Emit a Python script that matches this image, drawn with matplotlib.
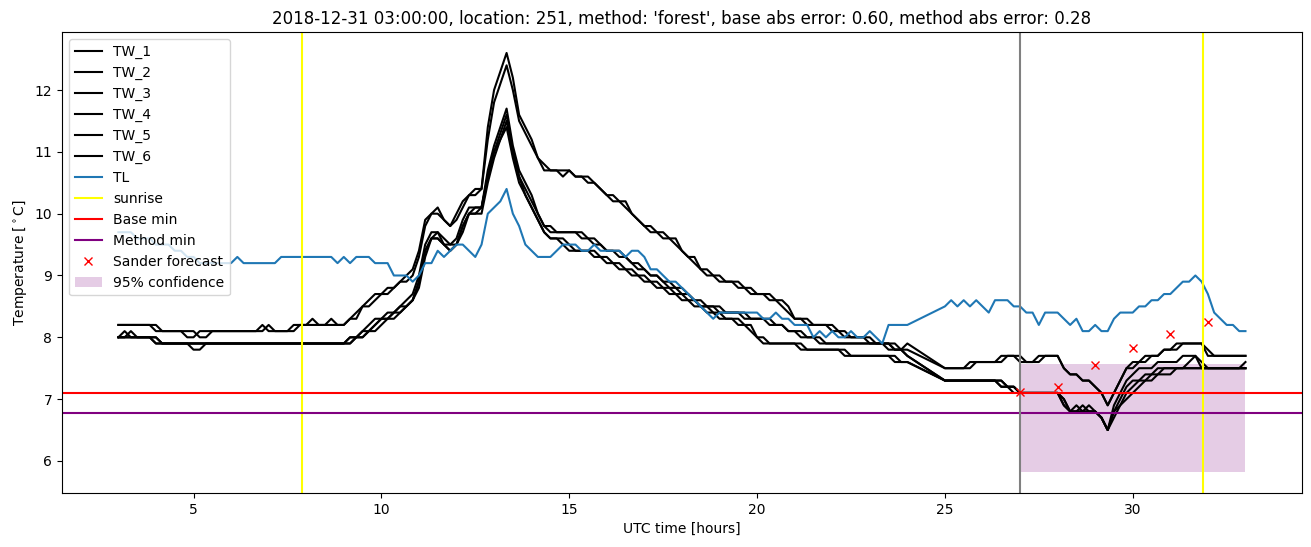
import numpy as np
import matplotlib
matplotlib.use("Agg")
import matplotlib.pyplot as plt

# sample times: 10-minute steps, 3:00-24:00 and 25:00-33:00 (gap in data)
hours = np.concatenate([np.arange(127) / 6 + 3, np.arange(49) / 6 + 25])

tw_1 = [
    8.2, 8.2, 8.2, 8.2, 8.2, 8.2,   # 3
    8.1, 8.1, 8.1, 8.1, 8.1, 8.0,   # 4
    8.0, 8.1, 8.1, 8.1, 8.1, 8.1,   # 5
    8.1, 8.1, 8.1, 8.1, 8.1, 8.2,   # 6
    8.1, 8.1, 8.1, 8.1, 8.2, 8.2,   # 7
    8.2, 8.3, 8.2, 8.2, 8.2, 8.2,   # 8
    8.2, 8.3, 8.4, 8.5, 8.6, 8.7,   # 9
    8.7, 8.8, 8.8, 8.9, 9.0, 9.1,   # 10
    9.4, 9.9, 10.0, 10.1, 9.9, 9.8,  # 11
    10.0, 10.2, 10.3, 10.4, 10.4, 11.4,  # 12
    12.0, 12.3, 12.6, 12.2, 11.6, 11.4,  # 13
    11.2, 10.9, 10.8, 10.7, 10.7, 10.7,  # 14
    10.7, 10.6, 10.6, 10.6, 10.5, 10.4,  # 15
    10.3, 10.3, 10.2, 10.2, 10.0, 9.9,   # 16
    9.8, 9.8, 9.7, 9.7, 9.6, 9.6,   # 17
    9.4, 9.3, 9.3, 9.1, 9.1, 9.0,   # 18
    9.0, 8.9, 8.9, 8.9, 8.8, 8.8,   # 19
    8.7, 8.7, 8.7, 8.6, 8.6, 8.5,   # 20
    8.3, 8.3, 8.3, 8.2, 8.2, 8.2,   # 21
    8.2, 8.1, 8.1, 8.0, 8.0, 8.0,   # 22
    8.0, 7.9, 7.9, 7.9, 7.9, 7.8,   # 23
    7.8,                            # 24
    7.5, 7.5, 7.5, 7.5, 7.6, 7.6,   # 25
    7.6, 7.6, 7.6, 7.7, 7.7, 7.7,   # 26
    7.6, 7.6, 7.6, 7.7, 7.7, 7.7,   # 27
    7.7, 7.5, 7.4, 7.4, 7.3, 7.3,   # 28
    7.2, 7.1, 6.9, 7.1, 7.3, 7.5,   # 29
    7.5, 7.6, 7.6, 7.7, 7.7, 7.8,   # 30
    7.8, 7.8, 7.9, 7.9, 7.9, 7.9,   # 31
    7.8, 7.7, 7.7, 7.7, 7.7, 7.7,   # 32
    7.7,                            # 33
]

tw_2 = [
    8.2, 8.2, 8.2, 8.2, 8.2, 8.2,
    8.2, 8.1, 8.1, 8.1, 8.1, 8.1,
    8.1, 8.0, 8.0, 8.1, 8.1, 8.1,
    8.1, 8.1, 8.1, 8.1, 8.1, 8.1,
    8.2, 8.1, 8.1, 8.1, 8.1, 8.2,
    8.2, 8.2, 8.2, 8.2, 8.3, 8.2,
    8.2, 8.3, 8.3, 8.5, 8.5, 8.6,
    8.7, 8.7, 8.8, 8.9, 8.9, 9.0,
    9.3, 9.8, 10.0, 10.0, 9.9, 9.8,
    9.9, 10.1, 10.3, 10.3, 10.4, 11.2,
    11.8, 12.1, 12.4, 12.0, 11.5, 11.3,
    11.1, 10.9, 10.7, 10.7, 10.7, 10.6,
    10.7, 10.6, 10.6, 10.5, 10.5, 10.4,
    10.3, 10.2, 10.2, 10.1, 10.0, 9.9,
    9.8, 9.7, 9.7, 9.6, 9.6, 9.5,
    9.4, 9.3, 9.2, 9.1, 9.0, 9.0,
    8.9, 8.9, 8.9, 8.8, 8.8, 8.7,
    8.7, 8.7, 8.6, 8.6, 8.5, 8.4,
    8.3, 8.3, 8.2, 8.2, 8.2, 8.2,
    8.1, 8.1, 8.0, 8.0, 8.0, 8.0,
    7.9, 7.9, 7.9, 7.9, 7.8, 7.8,
    7.9,
    7.5, 7.5, 7.5, 7.5, 7.5, 7.6,
    7.6, 7.6, 7.6, 7.6, 7.7, 7.7,
    7.7, 7.6, 7.6, 7.6, 7.7, 7.7,
    7.7, 7.5, 7.4, 7.4, 7.3, 7.3,
    7.2, 7.1, 6.9, 7.1, 7.3, 7.5,
    7.6, 7.6, 7.7, 7.7, 7.7, 7.8,
    7.8, 7.9, 7.9, 7.9, 7.9, 7.9,
    7.7, 7.7, 7.7, 7.7, 7.7, 7.7,
    7.7,
]

tw_3 = [
    8.0, 8.1, 8.0, 8.0, 8.0, 8.0,
    7.9, 7.9, 7.9, 7.9, 7.9, 7.9,
    7.8, 7.8, 7.9, 7.9, 7.9, 7.9,
    7.9, 7.9, 7.9, 7.9, 7.9, 7.9,
    7.9, 7.9, 7.9, 7.9, 7.9, 7.9,
    7.9, 7.9, 7.9, 7.9, 7.9, 7.9,
    7.9, 8.0, 8.0, 8.1, 8.2, 8.3,
    8.3, 8.4, 8.4, 8.5, 8.6, 8.7,
    9.0, 9.5, 9.7, 9.7, 9.5, 9.5,
    9.6, 9.9, 10.1, 10.1, 10.1, 10.7,
    11.1, 11.4, 11.7, 11.1, 10.7, 10.5,
    10.3, 10.0, 9.8, 9.8, 9.7, 9.7,
    9.7, 9.7, 9.6, 9.6, 9.5, 9.5,
    9.4, 9.4, 9.3, 9.3, 9.2, 9.1,
    9.1, 9.0, 9.0, 8.9, 8.8, 8.8,
    8.7, 8.7, 8.6, 8.5, 8.5, 8.5,
    8.4, 8.4, 8.4, 8.4, 8.3, 8.3,
    8.3, 8.3, 8.3, 8.2, 8.2, 8.1,
    8.1, 8.0, 8.0, 8.0, 7.9, 7.9,
    7.9, 7.9, 7.9, 7.9, 7.9, 7.9,
    7.9, 7.9, 7.9, 7.9, 7.8, 7.8,
    7.7,
    7.3, 7.3, 7.3, 7.3, 7.3, 7.3,
    7.3, 7.3, 7.3, 7.2, 7.2, 7.2,
    7.1, 7.1, 7.1, 7.1, 7.1, 7.1,
    7.1, 7.0, 6.8, 6.8, 6.9, 6.8,
    6.8, 6.7, 6.5, 6.9, 7.1, 7.3,
    7.4, 7.5, 7.5, 7.5, 7.6, 7.6,
    7.6, 7.6, 7.7, 7.7, 7.7, 7.6,
    7.5, 7.5, 7.5, 7.5, 7.5, 7.5,
    7.5,
]

tw_4 = [
    8.0, 8.0, 8.1, 8.0, 8.0, 8.0,
    8.0, 7.9, 7.9, 7.9, 7.9, 7.9,
    7.9, 7.9, 7.9, 7.9, 7.9, 7.9,
    7.9, 7.9, 7.9, 7.9, 7.9, 7.9,
    7.9, 7.9, 7.9, 7.9, 7.9, 7.9,
    7.9, 7.9, 7.9, 7.9, 7.9, 7.9,
    7.9, 7.9, 8.0, 8.1, 8.1, 8.2,
    8.3, 8.3, 8.4, 8.5, 8.5, 8.6,
    8.9, 9.4, 9.6, 9.7, 9.6, 9.5,
    9.5, 9.8, 10.0, 10.1, 10.1, 10.6,
    11.0, 11.3, 11.6, 11.0, 10.6, 10.4,
    10.2, 10.0, 9.8, 9.7, 9.7, 9.7,
    9.7, 9.7, 9.7, 9.6, 9.6, 9.5,
    9.4, 9.4, 9.4, 9.3, 9.2, 9.2,
    9.1, 9.0, 9.0, 8.9, 8.9, 8.8,
    8.8, 8.7, 8.6, 8.6, 8.5, 8.5,
    8.5, 8.4, 8.4, 8.4, 8.4, 8.3,
    8.3, 8.3, 8.2, 8.2, 8.2, 8.1,
    8.1, 8.1, 8.0, 8.0, 8.0, 7.9,
    7.9, 7.9, 7.9, 7.9, 7.9, 7.9,
    7.9, 7.9, 7.9, 7.8, 7.8, 7.8,
    7.7,
    7.3, 7.3, 7.3, 7.3, 7.3, 7.3,
    7.3, 7.3, 7.3, 7.3, 7.2, 7.2,
    7.1, 7.1, 7.1, 7.1, 7.1, 7.1,
    7.1, 6.9, 6.8, 6.9, 6.8, 6.8,
    6.8, 6.7, 6.5, 6.8, 7.0, 7.2,
    7.3, 7.3, 7.4, 7.4, 7.5, 7.5,
    7.5, 7.5, 7.5, 7.6, 7.7, 7.5,
    7.5, 7.5, 7.5, 7.5, 7.5, 7.5,
    7.5,
]

tw_5 = [
    8.0, 8.0, 8.0, 8.0, 8.0, 8.0,
    7.9, 7.9, 7.9, 7.9, 7.9, 7.9,
    7.9, 7.9, 7.9, 7.9, 7.9, 7.9,
    7.9, 7.9, 7.9, 7.9, 7.9, 7.9,
    7.9, 7.9, 7.9, 7.9, 7.9, 7.9,
    7.9, 7.9, 7.9, 7.9, 7.9, 7.9,
    7.9, 8.0, 8.0, 8.0, 8.1, 8.2,
    8.3, 8.3, 8.4, 8.4, 8.5, 8.6,
    8.9, 9.4, 9.6, 9.6, 9.5, 9.4,
    9.5, 9.8, 10.0, 10.0, 10.1, 10.6,
    11.0, 11.2, 11.5, 11.0, 10.6, 10.3,
    10.1, 9.9, 9.7, 9.6, 9.6, 9.5,
    9.4, 9.4, 9.4, 9.4, 9.3, 9.3,
    9.2, 9.2, 9.1, 9.1, 9.0, 9.0,
    8.9, 8.9, 8.8, 8.8, 8.7, 8.7,
    8.6, 8.6, 8.5, 8.5, 8.4, 8.4,
    8.3, 8.3, 8.3, 8.2, 8.2, 8.1,
    8.0, 7.9, 7.9, 7.9, 7.9, 7.9,
    7.9, 7.8, 7.8, 7.8, 7.8, 7.8,
    7.8, 7.8, 7.7, 7.7, 7.7, 7.7,
    7.7, 7.7, 7.7, 7.7, 7.6, 7.6,
    7.6,
    7.3, 7.3, 7.3, 7.3, 7.3, 7.3,
    7.3, 7.3, 7.3, 7.2, 7.2, 7.1,
    7.1, 7.1, 7.1, 7.1, 7.1, 7.1,
    7.1, 7.0, 6.8, 6.8, 6.8, 6.9,
    6.8, 6.7, 6.5, 6.8, 6.9, 7.1,
    7.2, 7.3, 7.3, 7.4, 7.4, 7.5,
    7.5, 7.5, 7.5, 7.5, 7.5, 7.5,
    7.5, 7.5, 7.5, 7.5, 7.5, 7.5,
    7.6,
]

tw_6 = [
    8.0, 8.0, 8.0, 8.0, 8.0, 8.0,
    8.0, 7.9, 7.9, 7.9, 7.9, 7.9,
    7.9, 7.9, 7.9, 7.9, 7.9, 7.9,
    7.9, 7.9, 7.9, 7.9, 7.9, 7.9,
    7.9, 7.9, 7.9, 7.9, 7.9, 7.9,
    7.9, 7.9, 7.9, 7.9, 7.9, 7.9,
    7.9, 7.9, 8.0, 8.0, 8.1, 8.1,
    8.2, 8.3, 8.3, 8.4, 8.5, 8.6,
    8.8, 9.3, 9.6, 9.6, 9.5, 9.4,
    9.5, 9.7, 10.0, 10.0, 10.0, 10.5,
    10.9, 11.2, 11.4, 10.9, 10.5, 10.3,
    10.1, 9.9, 9.7, 9.6, 9.6, 9.6,
    9.5, 9.4, 9.4, 9.4, 9.4, 9.3,
    9.3, 9.2, 9.2, 9.1, 9.1, 9.0,
    9.0, 8.9, 8.9, 8.8, 8.8, 8.7,
    8.7, 8.6, 8.6, 8.5, 8.5, 8.4,
    8.4, 8.3, 8.3, 8.3, 8.2, 8.2,
    8.0, 8.0, 7.9, 7.9, 7.9, 7.9,
    7.9, 7.9, 7.8, 7.8, 7.8, 7.8,
    7.8, 7.8, 7.8, 7.7, 7.7, 7.7,
    7.7, 7.7, 7.7, 7.7, 7.7, 7.6,
    7.6,
    7.3, 7.3, 7.3, 7.3, 7.3, 7.3,
    7.3, 7.3, 7.3, 7.3, 7.2, 7.2,
    7.1, 7.1, 7.1, 7.1, 7.1, 7.1,
    7.1, 6.9, 6.8, 6.8, 6.8, 6.8,
    6.8, 6.7, 6.5, 6.7, 6.9, 7.0,
    7.1, 7.2, 7.3, 7.3, 7.4, 7.4,
    7.4, 7.5, 7.5, 7.5, 7.5, 7.5,
    7.5, 7.5, 7.5, 7.5, 7.5, 7.5,
    7.5,
]

tl = [
    9.7, 9.7, 9.7, 9.6, 9.6, 9.6,   # 3
    9.5, 9.5, 9.5, 9.4, 9.4, 9.3,   # 4
    9.3, 9.2, 9.2, 9.2, 9.2, 9.2,   # 5
    9.2, 9.3, 9.2, 9.2, 9.2, 9.2,   # 6
    9.2, 9.2, 9.3, 9.3, 9.3, 9.3,   # 7
    9.3, 9.3, 9.3, 9.3, 9.3, 9.2,   # 8
    9.3, 9.2, 9.3, 9.3, 9.3, 9.2,   # 9
    9.2, 9.2, 9.0, 9.0, 9.0, 8.9,   # 10
    9.0, 9.2, 9.2, 9.4, 9.3, 9.4,   # 11
    9.5, 9.5, 9.4, 9.3, 9.5, 10.0,  # 12
    10.1, 10.2, 10.4, 10.0, 9.8, 9.5,  # 13
    9.4, 9.3, 9.3, 9.3, 9.4, 9.5,   # 14
    9.5, 9.5, 9.4, 9.4, 9.5, 9.4,   # 15
    9.4, 9.4, 9.4, 9.3, 9.4, 9.4,   # 16
    9.3, 9.1, 9.1, 9.0, 8.9, 8.9,   # 17
    8.8, 8.7, 8.6, 8.5, 8.4, 8.3,   # 18
    8.4, 8.4, 8.4, 8.4, 8.4, 8.4,   # 19
    8.4, 8.3, 8.3, 8.4, 8.3, 8.3,   # 20
    8.2, 8.2, 8.2, 8.0, 8.1, 8.0,   # 21
    8.1, 8.0, 8.0, 8.1, 8.0, 8.0,   # 22
    8.1, 8.0, 7.9, 8.2, 8.2, 8.2,   # 23
    8.2,                            # 24
    8.5, 8.6, 8.5, 8.6, 8.5, 8.6,   # 25
    8.5, 8.4, 8.6, 8.6, 8.6, 8.5,   # 26
    8.5, 8.4, 8.4, 8.2, 8.4, 8.4,   # 27
    8.4, 8.3, 8.2, 8.3, 8.1, 8.1,   # 28
    8.2, 8.1, 8.1, 8.3, 8.4, 8.4,   # 29
    8.4, 8.5, 8.5, 8.6, 8.6, 8.7,   # 30
    8.7, 8.8, 8.9, 8.9, 9.0, 8.9,   # 31
    8.7, 8.4, 8.3, 8.2, 8.2, 8.1,   # 32
    8.1,                            # 33
]

tw_series = [tw_1, tw_2, tw_3, tw_4, tw_5, tw_6]
tw_labels = ["TW_1", "TW_2", "TW_3", "TW_4", "TW_5", "TW_6"]

forecast_hours = [27, 28, 29, 30, 31, 32]
forecast_values = [7.11, 7.19, 7.55, 7.82, 8.06, 8.25]

sunrise_hours = [7.88, 31.88]
now_hour = 27.0
base_min = 7.1
method_min = 6.78
ci_hours = [27, 33]
ci_low = 5.82
ci_high = 7.56

title = ("2018-12-31 03:00:00, location: 251, method: 'forest', "
         "base abs error: 0.60, method abs error: 0.28")

fig, ax = plt.subplots(figsize=(13.11, 5.47), dpi=100)
fig.subplots_adjust(left=0.0473, right=0.993, top=0.9415, bottom=0.0987)

for lab, tw in zip(tw_labels, tw_series):
    ax.plot(hours, tw, color="black", label=lab)
ax.plot(hours, tl, color="C0", label="TL")
ax.axvline(sunrise_hours[0], color="yellow", label="sunrise")
ax.axvline(sunrise_hours[1], color="yellow")
ax.axhline(base_min, color="red", label="Base min")
ax.axhline(method_min, color="purple", label="Method min")
ax.axvline(now_hour, color="grey")
ax.plot(forecast_hours, forecast_values, "x", color="red", label="Sander forecast")
ax.fill_between(ci_hours, [ci_low, ci_low], [ci_high, ci_high],
                color="purple", alpha=0.2, linewidth=0, label="95% confidence")

ax.set_title(title)
ax.set_xlabel("UTC time [hours]")
ax.set_ylabel(r"Temperature [$^\circ$C]")
ax.legend(loc="upper left")

fig.savefig("out.png", dpi=100)
